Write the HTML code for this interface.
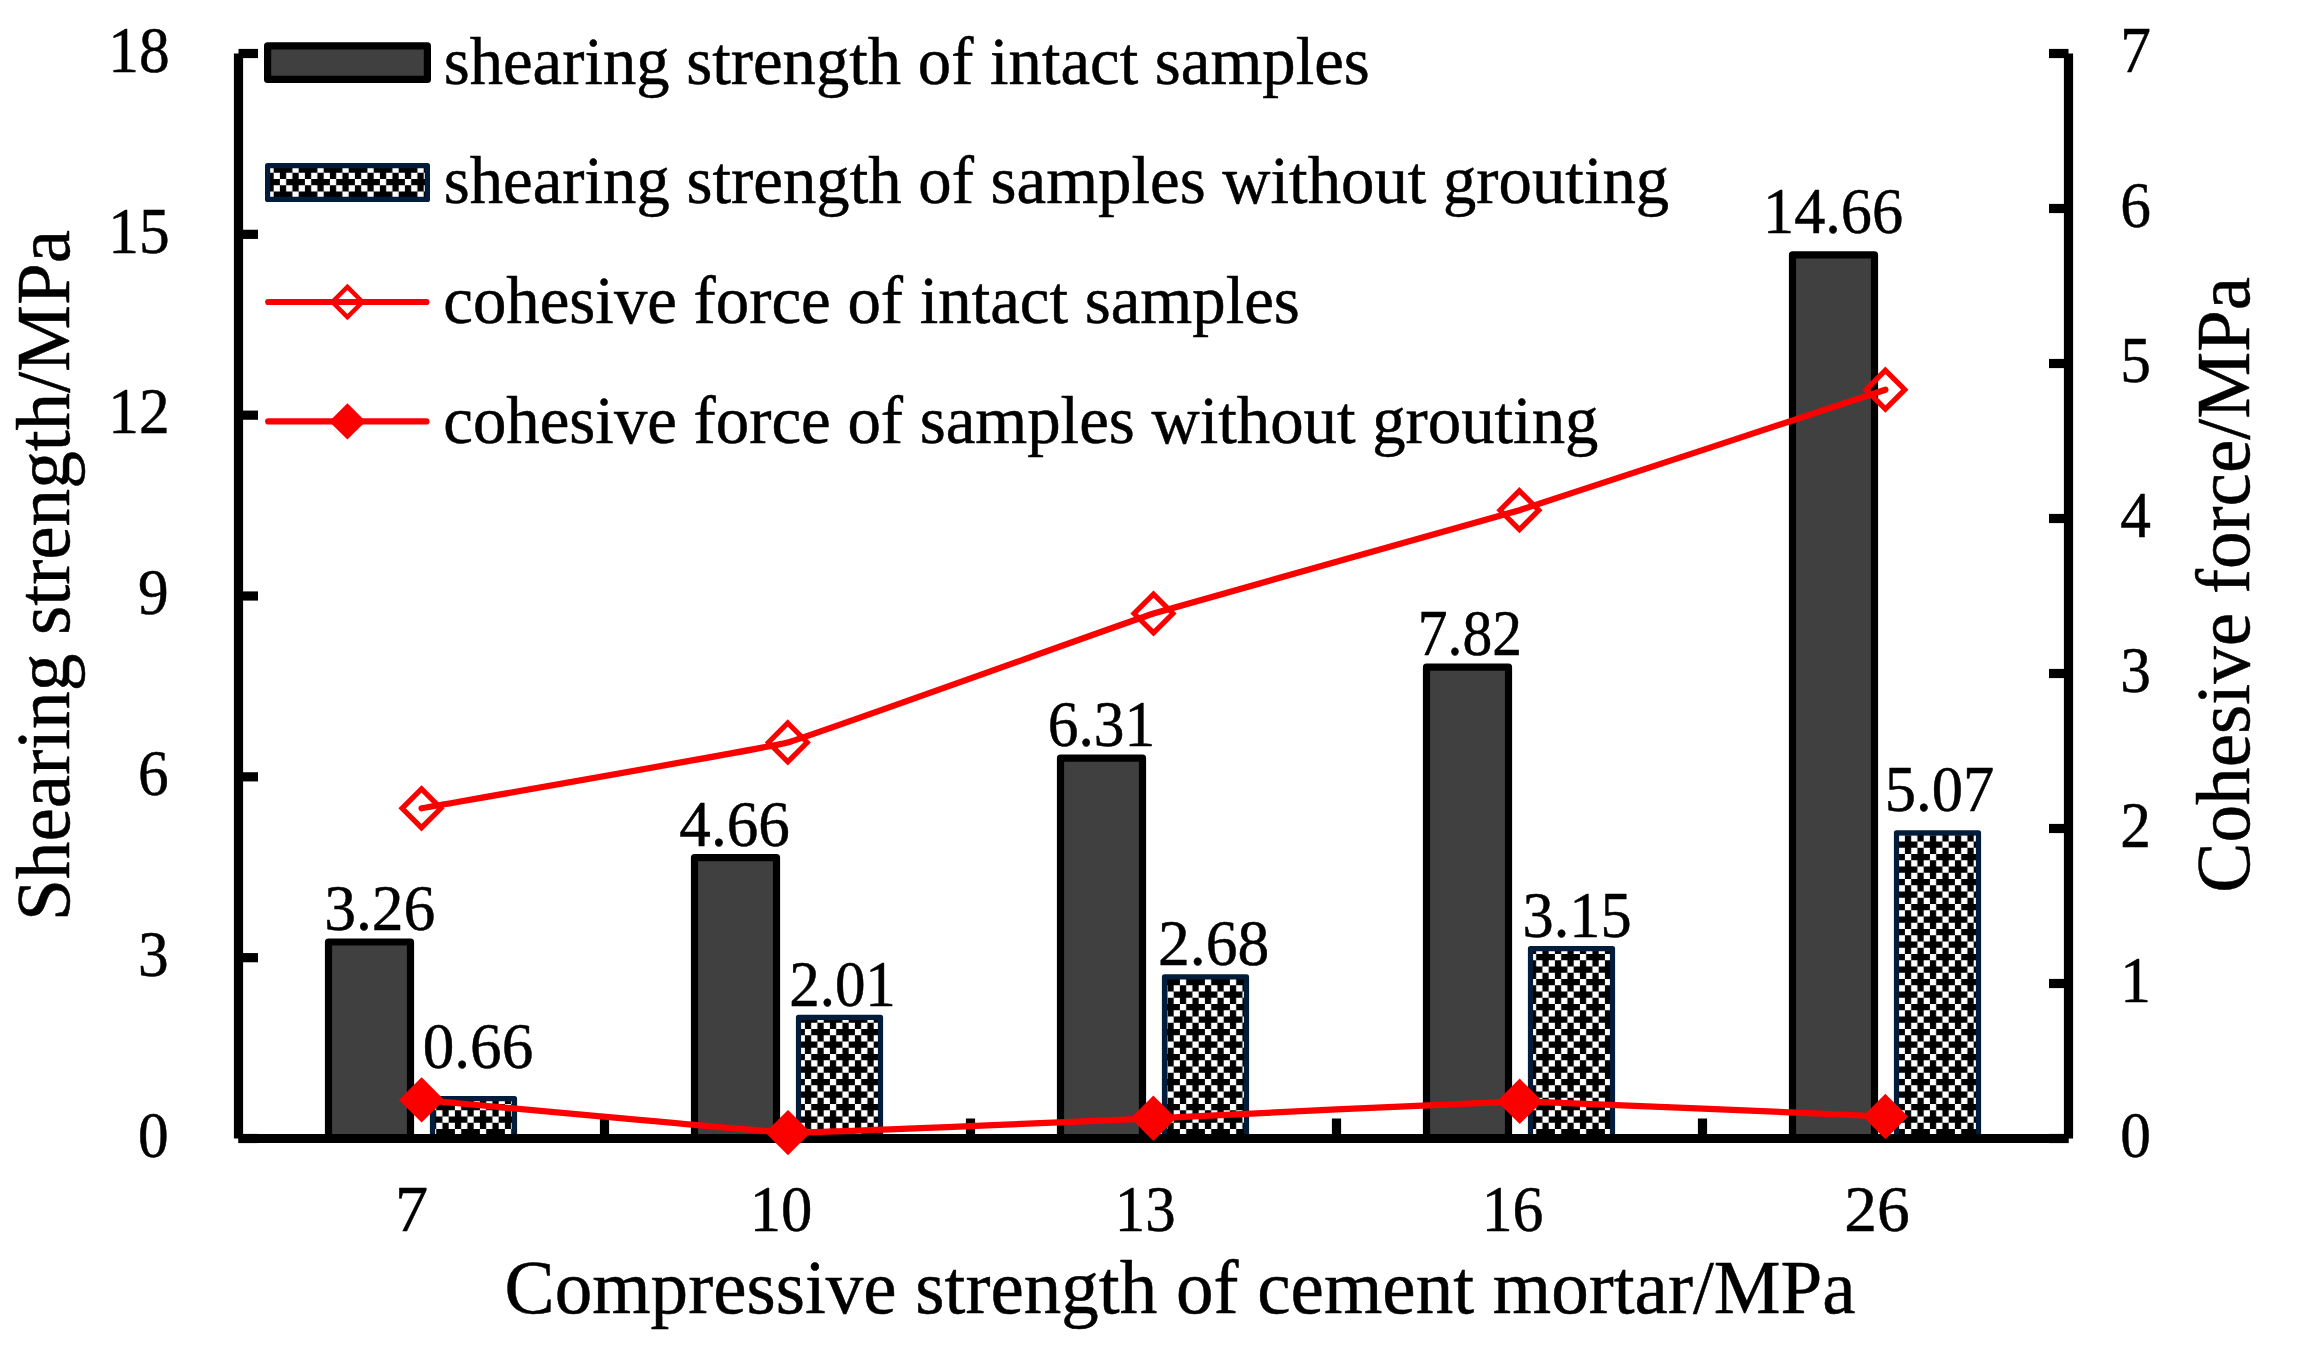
<!DOCTYPE html>
<html lang="en"><head><meta charset="utf-8"><title>Shearing strength and cohesive force vs compressive strength of cement mortar</title>
<style>
html,body{margin:0;padding:0;background:#fff;}
body{width:2300px;height:1349px;overflow:hidden;}
svg{display:block;}
text{white-space:pre;stroke:#000;stroke-width:0.5px;stroke-linejoin:round;}
</style></head><body>
<svg width="2300" height="1349" viewBox="0 0 2300 1349" font-family='"Liberation Serif", serif' fill="#000">
<defs>
<pattern id="chk" patternUnits="userSpaceOnUse" x="4.9" y="4.0" width="25" height="25">
<rect x="0" y="0" width="25" height="25" fill="#000"/>
<rect x="0.00" y="0.00" width="6.25" height="6.25" fill="#fff"/>
<rect x="6.25" y="6.25" width="6.25" height="6.25" fill="#fff"/>
<rect x="18.75" y="6.25" width="6.25" height="6.25" fill="#fff"/>
<rect x="12.50" y="12.50" width="6.25" height="6.25" fill="#fff"/>
<rect x="6.25" y="18.75" width="6.25" height="6.25" fill="#fff"/>
<rect x="18.75" y="18.75" width="6.25" height="6.25" fill="#fff"/>
</pattern>
</defs>
<rect width="2300" height="1349" fill="#fff"/>
<g stroke="#000" stroke-width="9.2" fill="none">
<path d="M238.50 1138.50H258.00"/>
<path d="M238.50 957.67H258.00"/>
<path d="M238.50 776.83H258.00"/>
<path d="M238.50 596.00H258.00"/>
<path d="M238.50 415.17H258.00"/>
<path d="M238.50 234.33H258.00"/>
<path d="M238.50 53.50H258.00"/>
<path d="M2068.50 1138.50H2049.00"/>
<path d="M2068.50 983.50H2049.00"/>
<path d="M2068.50 828.50H2049.00"/>
<path d="M2068.50 673.50H2049.00"/>
<path d="M2068.50 518.50H2049.00"/>
<path d="M2068.50 363.50H2049.00"/>
<path d="M2068.50 208.50H2049.00"/>
<path d="M2068.50 53.50H2049.00"/>
<path d="M604.50 1138.50V1118.50"/>
<path d="M970.50 1138.50V1118.50"/>
<path d="M1336.50 1138.50V1118.50"/>
<path d="M1702.50 1138.50V1118.50"/>
</g>
<g stroke-linejoin="round">
<rect x="328.50" y="941.99" width="82" height="196.51" fill="#404040" stroke="#000" stroke-width="7.2"/>
<rect x="694.50" y="857.61" width="82" height="280.89" fill="#404040" stroke="#000" stroke-width="7.2"/>
<rect x="1060.50" y="758.15" width="82" height="380.35" fill="#404040" stroke="#000" stroke-width="7.2"/>
<rect x="1426.50" y="667.13" width="82" height="471.37" fill="#404040" stroke="#000" stroke-width="7.2"/>
<rect x="1792.50" y="254.83" width="82" height="883.67" fill="#404040" stroke="#000" stroke-width="7.2"/>
<rect x="432.50" y="1098.72" width="82" height="39.78" fill="url(#chk)" stroke="#021c3c" stroke-width="5.2"/>
<rect x="798.50" y="1017.34" width="82" height="121.16" fill="url(#chk)" stroke="#021c3c" stroke-width="5.2"/>
<rect x="1164.50" y="976.96" width="82" height="161.54" fill="url(#chk)" stroke="#021c3c" stroke-width="5.2"/>
<rect x="1530.50" y="948.62" width="82" height="189.88" fill="url(#chk)" stroke="#021c3c" stroke-width="5.2"/>
<rect x="1896.50" y="832.89" width="82" height="305.61" fill="url(#chk)" stroke="#021c3c" stroke-width="5.2"/>
</g>
<g stroke="#000" stroke-width="9.2" fill="none">
<path d="M238.50 53.50V1138.50"/>
<path d="M2068.50 53.50V1138.50"/>
<path d="M238.50 1138.50H2068.50"/>
</g>
<path d="M421.60 1099.90C443.58 1101.86 766.05 1132.05 788.00 1132.60C809.95 1133.15 1131.45 1119.24 1153.40 1118.30C1175.35 1117.36 1497.74 1101.35 1519.70 1101.30C1541.66 1101.25 1863.46 1115.59 1885.40 1116.50" fill="none" stroke="#fc0000" stroke-width="6.2" stroke-linecap="round" stroke-linejoin="round"/>
<path d="M421.60 1080.90L440.60 1099.90L421.60 1118.90L402.60 1099.90Z" fill="#fc0000" stroke="#fc0000" stroke-width="5.2" stroke-linejoin="miter"/>
<path d="M788.00 1113.60L807.00 1132.60L788.00 1151.60L769.00 1132.60Z" fill="#fc0000" stroke="#fc0000" stroke-width="5.2" stroke-linejoin="miter"/>
<path d="M1153.40 1099.30L1172.40 1118.30L1153.40 1137.30L1134.40 1118.30Z" fill="#fc0000" stroke="#fc0000" stroke-width="5.2" stroke-linejoin="miter"/>
<path d="M1519.70 1082.30L1538.70 1101.30L1519.70 1120.30L1500.70 1101.30Z" fill="#fc0000" stroke="#fc0000" stroke-width="5.2" stroke-linejoin="miter"/>
<path d="M1885.40 1097.50L1904.40 1116.50L1885.40 1135.50L1866.40 1116.50Z" fill="#fc0000" stroke="#fc0000" stroke-width="5.2" stroke-linejoin="miter"/>
<path d="M421.50 808.30C443.48 804.35 765.84 748.24 787.80 742.40C809.76 736.56 1131.55 620.47 1153.50 613.50C1175.45 606.53 1497.44 516.91 1519.40 510.20C1541.36 503.49 1863.44 396.93 1885.40 389.70" fill="none" stroke="#fc0000" stroke-width="6.2" stroke-linecap="round" stroke-linejoin="round"/>
<path d="M421.50 788.90L440.90 808.30L421.50 827.70L402.10 808.30Z" fill="none" stroke="#fc0000" stroke-width="5.2" stroke-linejoin="miter"/>
<path d="M787.80 723.00L807.20 742.40L787.80 761.80L768.40 742.40Z" fill="none" stroke="#fc0000" stroke-width="5.2" stroke-linejoin="miter"/>
<path d="M1153.50 594.10L1172.90 613.50L1153.50 632.90L1134.10 613.50Z" fill="none" stroke="#fc0000" stroke-width="5.2" stroke-linejoin="miter"/>
<path d="M1519.40 490.80L1538.80 510.20L1519.40 529.60L1500.00 510.20Z" fill="none" stroke="#fc0000" stroke-width="5.2" stroke-linejoin="miter"/>
<path d="M1885.40 370.30L1904.80 389.70L1885.40 409.10L1866.00 389.70Z" fill="none" stroke="#fc0000" stroke-width="5.2" stroke-linejoin="miter"/>
<rect x="267.6" y="45.8" width="159.8" height="33.6" fill="#404040" stroke="#000" stroke-width="7.2" stroke-linejoin="round"/>
<rect x="267.6" y="165.6" width="159.8" height="33.8" fill="url(#chk)" stroke="#021c3c" stroke-width="5.2" stroke-linejoin="round"/>
<path d="M268.2 302.0H426.4" stroke="#fc0000" stroke-width="6.2" stroke-linecap="round" fill="none"/>
<path d="M347.40 286.90L362.50 302.00L347.40 317.10L332.30 302.00Z" fill="none" stroke="#fc0000" stroke-width="4.4" stroke-linejoin="miter"/>
<path d="M268.2 421.4H426.4" stroke="#fc0000" stroke-width="6.2" stroke-linecap="round" fill="none"/>
<path d="M347.40 406.30L362.50 421.40L347.40 436.50L332.30 421.40Z" fill="#fc0000" stroke="#fc0000" stroke-width="4.4" stroke-linejoin="miter"/>
<text x="443.73" y="83.60" font-size="68.20" textLength="926.00" lengthAdjust="spacingAndGlyphs">shearing strength of intact samples</text>
<text x="443.73" y="203.20" font-size="68.20" textLength="1225.49" lengthAdjust="spacingAndGlyphs">shearing strength of samples without grouting</text>
<text x="443.33" y="323.40" font-size="68.20" textLength="856.47" lengthAdjust="spacingAndGlyphs">cohesive force of intact samples</text>
<text x="443.33" y="442.60" font-size="68.20" textLength="1155.08" lengthAdjust="spacingAndGlyphs">cohesive force of samples without grouting</text>
<text x="137.95" y="1156.80" font-size="65.00" textLength="30.65" lengthAdjust="spacingAndGlyphs">0</text>
<text x="137.95" y="975.97" font-size="65.00" textLength="30.65" lengthAdjust="spacingAndGlyphs">3</text>
<text x="137.95" y="795.13" font-size="65.00" textLength="30.65" lengthAdjust="spacingAndGlyphs">6</text>
<text x="137.95" y="614.30" font-size="65.00" textLength="30.65" lengthAdjust="spacingAndGlyphs">9</text>
<text x="108.30" y="433.47" font-size="65.00" textLength="61.30" lengthAdjust="spacingAndGlyphs">12</text>
<text x="108.30" y="252.63" font-size="65.00" textLength="61.30" lengthAdjust="spacingAndGlyphs">15</text>
<text x="108.30" y="71.80" font-size="65.00" textLength="61.30" lengthAdjust="spacingAndGlyphs">18</text>
<text x="2120.20" y="1156.80" font-size="65.00" textLength="30.65" lengthAdjust="spacingAndGlyphs">0</text>
<text x="2120.20" y="1001.80" font-size="65.00" textLength="30.65" lengthAdjust="spacingAndGlyphs">1</text>
<text x="2120.20" y="846.80" font-size="65.00" textLength="30.65" lengthAdjust="spacingAndGlyphs">2</text>
<text x="2120.20" y="691.80" font-size="65.00" textLength="30.65" lengthAdjust="spacingAndGlyphs">3</text>
<text x="2120.20" y="536.80" font-size="65.00" textLength="30.65" lengthAdjust="spacingAndGlyphs">4</text>
<text x="2120.20" y="381.80" font-size="65.00" textLength="30.65" lengthAdjust="spacingAndGlyphs">5</text>
<text x="2120.20" y="226.80" font-size="65.00" textLength="30.65" lengthAdjust="spacingAndGlyphs">6</text>
<text x="2120.20" y="71.80" font-size="65.00" textLength="30.65" lengthAdjust="spacingAndGlyphs">7</text>
<text x="394.90" y="1231.00" font-size="65.00" textLength="33.09" lengthAdjust="spacingAndGlyphs">7</text>
<text x="749.68" y="1231.00" font-size="65.00" textLength="62.63" lengthAdjust="spacingAndGlyphs">10</text>
<text x="1114.83" y="1231.00" font-size="65.00" textLength="60.80" lengthAdjust="spacingAndGlyphs">13</text>
<text x="1481.76" y="1231.00" font-size="65.00" textLength="61.69" lengthAdjust="spacingAndGlyphs">16</text>
<text x="1844.26" y="1231.00" font-size="65.00" textLength="65.41" lengthAdjust="spacingAndGlyphs">26</text>
<text x="324.14" y="929.60" font-size="65.00" textLength="111.16" lengthAdjust="spacingAndGlyphs">3.26</text>
<text x="422.78" y="1067.90" font-size="65.00" textLength="110.42" lengthAdjust="spacingAndGlyphs">0.66</text>
<text x="679.34" y="845.50" font-size="65.00" textLength="110.46" lengthAdjust="spacingAndGlyphs">4.66</text>
<text x="789.16" y="1005.90" font-size="65.00" textLength="106.70" lengthAdjust="spacingAndGlyphs">2.01</text>
<text x="1047.74" y="746.10" font-size="65.00" textLength="107.44" lengthAdjust="spacingAndGlyphs">6.31</text>
<text x="1158.04" y="964.90" font-size="65.00" textLength="111.20" lengthAdjust="spacingAndGlyphs">2.68</text>
<text x="1417.73" y="655.00" font-size="65.00" textLength="104.25" lengthAdjust="spacingAndGlyphs">7.82</text>
<text x="1522.59" y="936.70" font-size="65.00" textLength="109.10" lengthAdjust="spacingAndGlyphs">3.15</text>
<text x="1763.00" y="233.10" font-size="65.00" textLength="140.16" lengthAdjust="spacingAndGlyphs">14.66</text>
<text x="1884.85" y="811.20" font-size="65.00" textLength="109.43" lengthAdjust="spacingAndGlyphs">5.07</text>
<text x="504.60" y="1313.00" font-size="77.00" textLength="1351.00" lengthAdjust="spacingAndGlyphs">Compressive strength of cement mortar/MPa</text>
<text transform="translate(69.10,916.10) rotate(-90)" x="-4.89" y="0.00" font-size="77.00" textLength="691.08" lengthAdjust="spacingAndGlyphs">Shearing strength/MPa</text>
<text transform="translate(2249.00,889.70) rotate(-90)" x="-3.01" y="0.00" font-size="77.00" textLength="615.94" lengthAdjust="spacingAndGlyphs">Cohesive force/MPa</text>
</svg>
</body></html>
